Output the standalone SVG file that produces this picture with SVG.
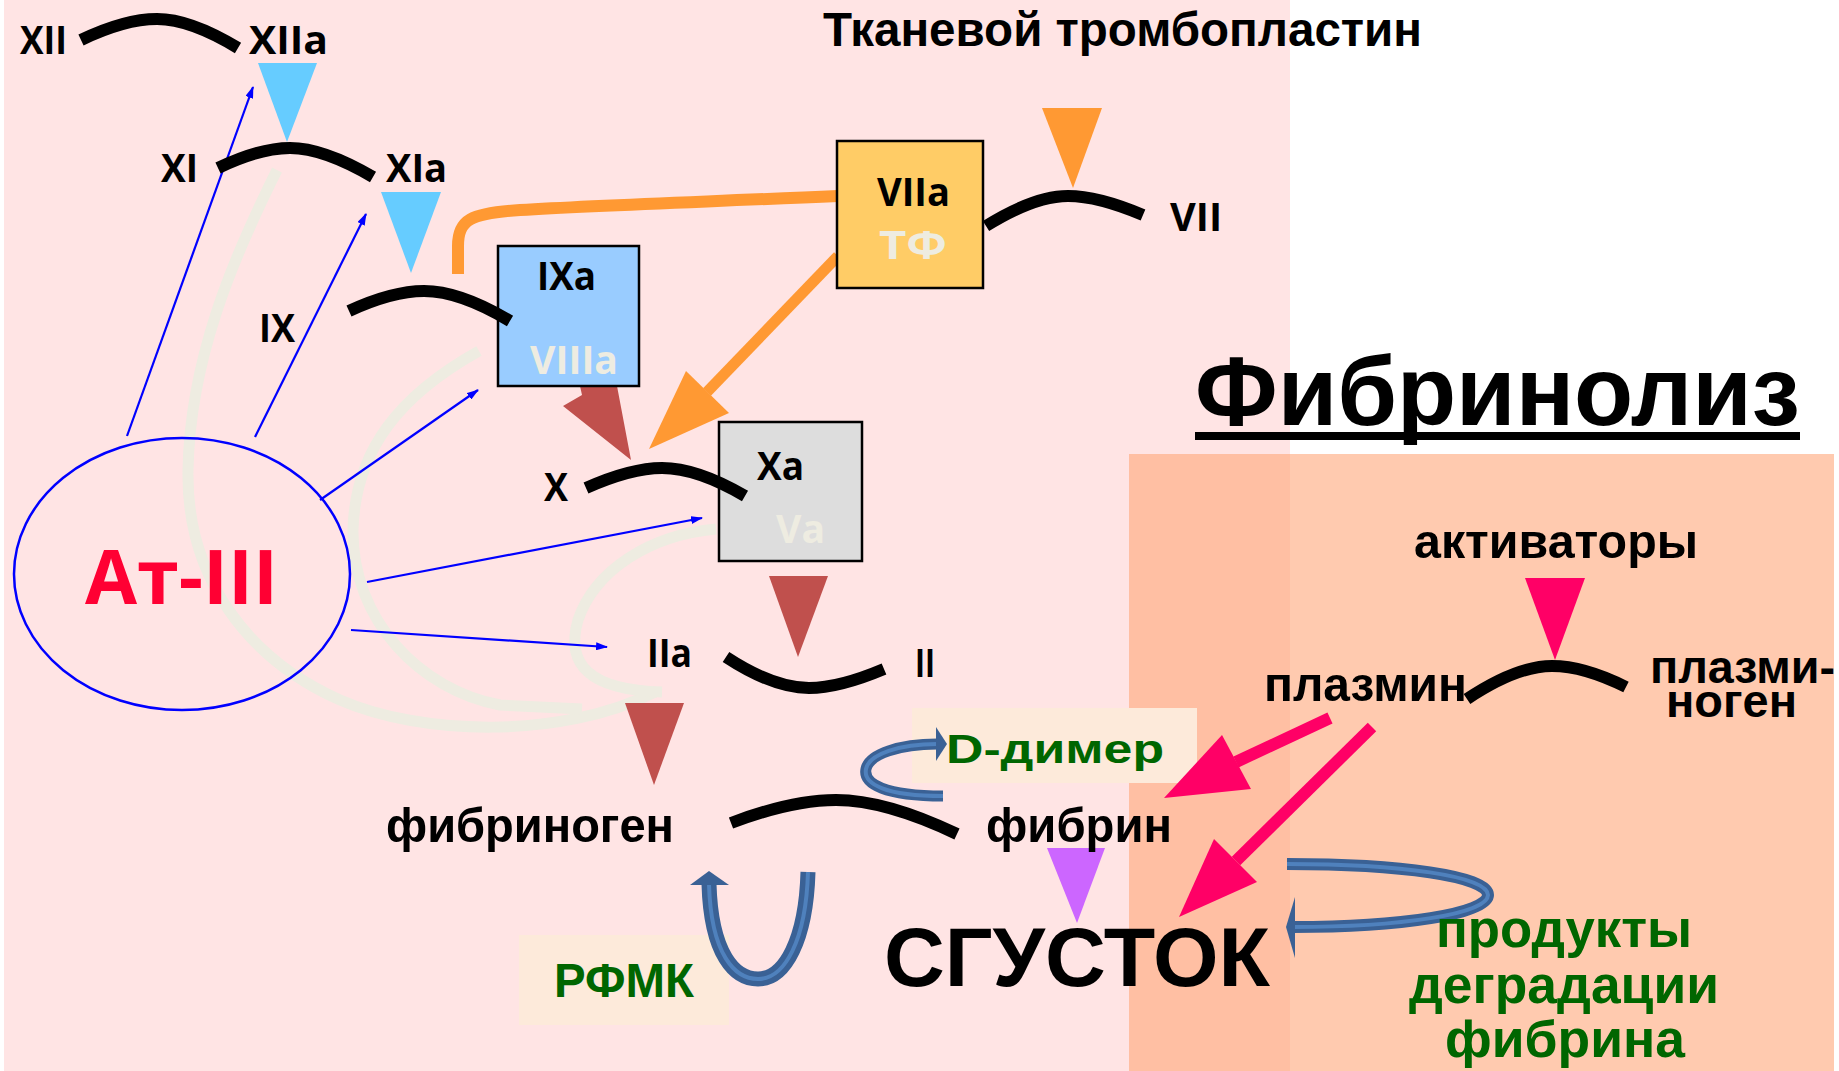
<svg xmlns="http://www.w3.org/2000/svg" width="1839" height="1071" viewBox="0 0 1839 1071">
<defs>
<style>
.rn{font-family:"Open Sans","DejaVu Sans",sans-serif;font-weight:700;font-size:40px;fill:#000}
.cr{fill:#EEECE1}
.cy{font-family:"Liberation Sans",Arial,sans-serif;font-weight:700;fill:#000}
.gr{fill:#006600}
.blk{fill:none;stroke:#000;stroke-width:12;stroke-linecap:butt}
.faint{fill:none;stroke:#EEECE1;stroke-width:11}
.thin{fill:none;stroke:#0000FF;stroke-width:2.2}
.bdark{fill:none;stroke:#3A6195;stroke-linecap:butt}
.blight{fill:none;stroke:#4F81BD;stroke-width:4;stroke-linecap:butt}
.pk{stroke:#FF0066;stroke-width:12;fill:none}
.or{stroke:#FF9933;fill:none}
</style>
<marker id="ah" markerWidth="12" markerHeight="8" refX="11" refY="4" orient="auto" markerUnits="userSpaceOnUse">
<path d="M0,0 L12,4 L0,8 z" fill="#0000FF"/>
</marker>
</defs>

<g id="background">
<rect x="0" y="0" width="1839" height="1071" fill="#FFFFFF"/>
<rect x="4" y="0" width="1286" height="1071" fill="#FFE4E4"/>
<rect x="1129" y="454" width="705" height="617" fill="#FFCAAF"/>
<rect x="1129" y="454" width="161" height="617" fill="#FFBFA3"/>
</g>

<g id="faint-curves">
<path class="faint" d="M277,170 C 232,260 190,360 188,470 C 186,580 250,660 340,700 C 420,735 560,740 655,692"/>
<path class="faint" d="M479,351 C 400,395 355,450 353,530 C 352,620 420,690 500,705 L 582,709"/>
<path class="faint" d="M716,529 C 650,535 595,570 578,620 C 565,665 590,690 662,692"/>
</g>

<g id="connectors">
<line class="thin" x1="127" y1="436" x2="253" y2="87" marker-end="url(#ah)"/>
<line class="thin" x1="255" y1="437" x2="366" y2="214" marker-end="url(#ah)"/>
<line class="thin" x1="320" y1="500" x2="478" y2="390" marker-end="url(#ah)"/>
<line class="thin" x1="367" y1="582" x2="702" y2="518" marker-end="url(#ah)"/>
<line class="thin" x1="351" y1="630" x2="607" y2="647" marker-end="url(#ah)"/>

<path class="or" stroke-width="12" d="M458,274 L458,246 C458,220 470,213 520,210 C 600,205 700,202 838,196"/>
<line class="or" stroke-width="11" x1="838" y1="256" x2="707" y2="392"/>
<polygon points="686,371 729,413 649,449" fill="#FF9933"/>

<polygon points="258,63 317,63 287,142" fill="#66CCFF"/>
<polygon points="381,192 441,192 411,273" fill="#66CCFF"/>
<polygon points="1042,108 1102,108 1073,188" fill="#FF9933"/>
<polygon points="563,406 582,395 580,386 617,386 631,460" fill="#C0504D"/>
<polygon points="769,576 828,576 798,657" fill="#C0504D"/>
<polygon points="625,703 684,703 654,785" fill="#C0504D"/>
<polygon points="1047,848 1105,848 1077,923" fill="#CC66FF"/>
<polygon points="1525,578 1585,578 1555,660" fill="#FF0066"/>
</g>

<g id="node-at3">
<ellipse cx="182" cy="574" rx="168" ry="136" fill="none" stroke="#0000FF" stroke-width="2.5"/>
<text class="rn" x="85" y="604" style="fill:#FF0033;font-size:76px" textLength="193" lengthAdjust="spacingAndGlyphs">Ат-III</text>
</g>

<g id="node-ixa">
<rect x="498" y="246" width="141" height="140" fill="#99CCFF" stroke="#000" stroke-width="2.5"/>
<text class="rn" x="537" y="290" textLength="59" lengthAdjust="spacingAndGlyphs">IXa</text>
<text class="rn cr" x="530" y="374" textLength="88" lengthAdjust="spacingAndGlyphs">VIIIa</text>
</g>

<g id="node-viia">
<rect x="837" y="141" width="146" height="147" fill="#FFCC66" stroke="#000" stroke-width="2.5"/>
<text class="rn" x="877" y="206" textLength="73" lengthAdjust="spacingAndGlyphs">VIIa</text>
<text class="rn cr" x="879" y="259" textLength="68" lengthAdjust="spacingAndGlyphs">ТФ</text>
</g>

<g id="node-xa">
<rect x="719" y="422" width="143" height="139" fill="#DDDDDD" stroke="#000" stroke-width="2.5"/>
<text class="rn" x="757" y="480" textLength="47" lengthAdjust="spacingAndGlyphs">Xa</text>
<text class="rn cr" x="776" y="543" textLength="49" lengthAdjust="spacingAndGlyphs">Va</text>
</g>

<g id="reactions">
<path class="blk" d="M81,40 C108,27 134,19 157,19 C181,19 210,31 238,48"/>
<path class="blk" d="M218,168 C243,156 268,148 290,148 C315,148 344,160 373,177"/>
<path class="blk" d="M349,311 C375,299 401,291 424,291 C450,291 480,303 510,321"/>
<path class="blk" d="M586,488 C613,476 639,468 662,468 C687,468 716,479 745,496"/>
<path class="blk" d="M986,226 C1015,208 1043,196 1068,196 C1090,196 1117,204 1143,215"/>
<path class="blk" d="M726,657 C755,676 784,688 809,688 C832,688 858,680 884,669"/>
<path class="blk" d="M731,823 C768,809 804,800 836,800 C872,800 915,814 957,834"/>
<path class="blk" d="M1467,699 C1497,679 1526,666 1552,666 C1574,666 1600,674 1626,687"/>
</g>

<g id="labels">
<text class="cy" x="823" y="46" font-size="48" textLength="599" lengthAdjust="spacingAndGlyphs">Тканевой тромбопластин</text>
<text class="rn" x="20" y="54" textLength="47" lengthAdjust="spacingAndGlyphs">XII</text>
<text class="rn" x="249" y="54" textLength="79" lengthAdjust="spacingAndGlyphs">XIIa</text>
<text class="rn" x="161" y="182" textLength="37" lengthAdjust="spacingAndGlyphs">XI</text>
<text class="rn" x="386" y="182" textLength="61" lengthAdjust="spacingAndGlyphs">XIa</text>
<text class="rn" x="259" y="342" textLength="36" lengthAdjust="spacingAndGlyphs">IX</text>
<text class="rn" x="1170" y="231" textLength="52" lengthAdjust="spacingAndGlyphs">VII</text>
<text class="rn" x="544" y="501" textLength="24" lengthAdjust="spacingAndGlyphs">X</text>
<text class="rn" x="647" y="667" textLength="45" lengthAdjust="spacingAndGlyphs">IIa</text>
<text class="rn" x="915" y="677" textLength="20" lengthAdjust="spacingAndGlyphs">II</text>
<text class="cy" x="386" y="842" font-size="49" textLength="288" lengthAdjust="spacingAndGlyphs">фибриноген</text>
<text class="cy" x="986" y="842" font-size="49" textLength="186" lengthAdjust="spacingAndGlyphs">фибрин</text>
<text class="cy" x="884" y="986" font-size="84" textLength="386" lengthAdjust="spacingAndGlyphs">СГУСТОК</text>
</g>

<g id="node-ddimer">
<rect x="912" y="708" width="285" height="75" fill="#FDEADA"/>
<text class="cy gr" x="946" y="763" font-size="41" textLength="218" lengthAdjust="spacingAndGlyphs">D-димер</text>
<path class="bdark" stroke-width="11" d="M943,796 C 885,796 863,784 866,769 C 869,754 900,744 937,744"/>
<path class="blight" stroke-width="3" d="M943,796 C 885,796 863,784 866,769 C 869,754 900,744 937,744"/>
<polygon points="936,727 947,744 936,761" fill="#3A6195"/>
</g>

<g id="node-rfmk">
<rect x="519" y="935" width="210" height="90" fill="#FDEADA"/>
<text class="cy gr" x="554" y="997" font-size="48" textLength="140" lengthAdjust="spacingAndGlyphs">РФМК</text>
<path class="bdark" stroke-width="15" d="M709,884 C 711,955 735,979 758,979 C 785,979 806,940 808,872"/>
<path class="blight" d="M709,884 C 711,955 735,979 758,979 C 785,979 806,940 808,872"/>
<polygon points="690,885 709,871 729,885" fill="#3A6195"/>
</g>

<g id="fibrinolysis">
<text class="cy" x="1195" y="425" font-size="98" textLength="605" lengthAdjust="spacingAndGlyphs">Фибринолиз</text>
<rect x="1195" y="432" width="605" height="8" fill="#000"/>
<text class="cy" x="1414" y="558" font-size="49" textLength="284" lengthAdjust="spacingAndGlyphs">активаторы</text>
<text class="cy" x="1264" y="701" font-size="49" textLength="203" lengthAdjust="spacingAndGlyphs">плазмин</text>
<text class="cy" x="1650" y="683" font-size="47" textLength="185" lengthAdjust="spacingAndGlyphs">плазми-</text>
<text class="cy" x="1666" y="717" font-size="47" textLength="131" lengthAdjust="spacingAndGlyphs">ноген</text>
<line class="pk" x1="1330" y1="718" x2="1236" y2="762"/>
<polygon points="1222,735 1251,789 1164,798" fill="#FF0066"/>
<line class="pk" x1="1372" y1="727" x2="1236" y2="861"/>
<polygon points="1214,839 1257,882 1179,917" fill="#FF0066"/>
<path class="bdark" stroke-width="12" d="M1287,864 C 1400,864 1488,876 1488,895 C 1488,914 1400,927 1293,927"/>
<path class="blight" stroke-width="3" d="M1287,864 C 1400,864 1488,876 1488,895 C 1488,914 1400,927 1293,927"/>
<polygon points="1295,897 1286,927 1295,958" fill="#3A6195"/>
<text class="cy gr" x="1436" y="947" font-size="51" textLength="256" lengthAdjust="spacingAndGlyphs">продукты</text>
<text class="cy gr" x="1409" y="1003" font-size="51" textLength="310" lengthAdjust="spacingAndGlyphs">деградации</text>
<text class="cy gr" x="1445" y="1057" font-size="51" textLength="240" lengthAdjust="spacingAndGlyphs">фибрина</text>
</g>
</svg>
